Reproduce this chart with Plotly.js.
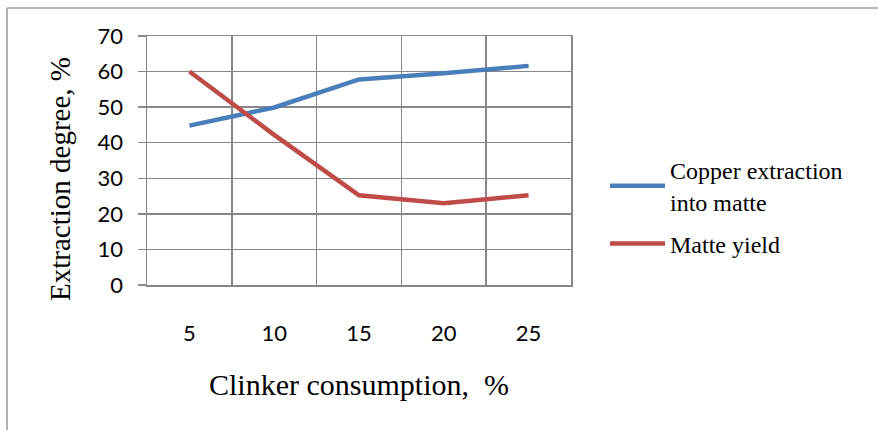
<!DOCTYPE html>
<html>
<head>
<meta charset="utf-8">
<script src="https://cdn.plot.ly/plotly-3.0.1.min.js"></script>
<style>html,body{margin:0;padding:0;background:#fff;}#chart{width:878px;height:430px;}</style>
</head>
<body>
<div id="chart"></div>
<script>
const categories = ["5", "10", "15", "20", "25"];
const copperExtraction = [44.8, 49.9, 57.8, 59.5, 61.6];
const matteYield = [60.0, 42.2, 25.2, 23.0, 25.2];
const yTicks = [0, 10, 20, 30, 40, 50, 60, 70];

const L = 147, R = 571, T = 36, B = 285, W = 878, H = 430;
const px = x => (x - L) / (R - L);
const py = y => (B - y) / (B - T);

const traces = [
  {x: categories, y: copperExtraction, type: "scatter", mode: "lines", legendgroup: "a",
   name: "Copper extraction<br>into matte", line: {color: "#4A7EBB", width: 4.5}},
  {x: categories, y: matteYield, type: "scatter", mode: "lines", legendgroup: "b",
   name: "Matte yield", line: {color: "#BE4B48", width: 4.5}}
];

const grid = "#878787";
const layout = {
  width: W, height: H,
  margin: {l: L, r: W - R, t: T, b: H - B, pad: 0},
  paper_bgcolor: "#fff", plot_bgcolor: "#fff",
  showlegend: true,
  legend: {x: px(605), y: py(148), xanchor: "left", yanchor: "top",
           font: {family: "Liberation Serif", size: 24, color: "#000"},
           itemwidth: 55, tracegroupgap: 8, bgcolor: "rgba(0,0,0,0)"},
  xaxis: {type: "category", range: [-0.5, 4.5], tickson: "boundaries", showgrid: true, gridcolor: grid, gridwidth: 1.5,
          showline: true, linecolor: grid, linewidth: 1.5, mirror: true,
          ticks: "", ticklabelstandoff: 28, zeroline: false,
          tickfont: {family: "Lato", size: 22, color: "#000"},
          title: {text: "Clinker consumption,  %", font: {family: "Liberation Serif", size: 30, color: "#000"}, standoff: 29}},
  yaxis: {range: [0, 70], tickvals: yTicks, showgrid: true, gridcolor: grid, gridwidth: 1.5,
          showline: true, linecolor: grid, linewidth: 1.5, mirror: true,
          ticks: "outside", ticklen: 8, tickcolor: grid, tickwidth: 1.5, ticklabelstandoff: 10,
          zeroline: false, tickfont: {family: "Lato", size: 22, color: "#000"}},
  annotations: [{text: "Extraction degree, %", textangle: -90, xref: "paper", yref: "paper",
                 x: px(60), y: py(179), showarrow: false, xanchor: "center", yanchor: "middle",
                 font: {family: "Liberation Serif", size: 29, color: "#000"}}],
  shapes: [
    {type: "line", xref: "paper", yref: "paper", x0: px(7), x1: px(880), y0: py(8), y1: py(8), line: {color: "#999", width: 1.5}},
    {type: "line", xref: "paper", yref: "paper", x0: px(7), x1: px(7), y0: py(8), y1: py(432), line: {color: "#999", width: 1.5}}
  ]
};
Plotly.newPlot("chart", traces, layout, {displayModeBar: false, staticPlot: true});
</script>
</body>
</html>
